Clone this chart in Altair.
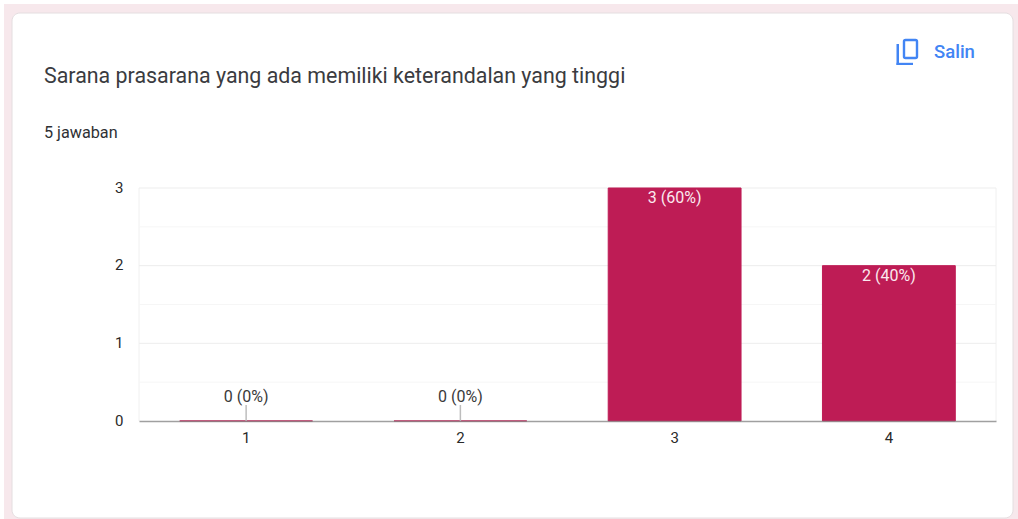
import altair as alt
import pandas as pd

# Survey responses
categories = ["1", "2", "3", "4"]
counts = [0, 0, 3, 2]
labels = ["0 (0%)", "0 (0%)", "3 (60%)", "2 (40%)"]

major_ticks = [1, 2, 3]
minor_ticks = [0.5, 1.5, 2.5]
axis_ticks = [0, 1, 2, 3]

title_text = "Sarana prasarana yang ada memiliki keterandalan yang tinggi"
subtitle_text = "5 jawaban"
copy_text = "Salin"

FONT = "Roboto"
BAR = "#BE1C55"
BLUE = "#4285F4"
LEFT, TOP = 139, 188
W, H = 857, 233

df = pd.DataFrame({"cat": categories, "n": counts, "label": labels})
zero = df[df.n == 0]
filled = df[df.n > 0]

x_scale = alt.Scale(domain=categories, paddingInner=0.38, paddingOuter=0.19)
y_scale = alt.Scale(domain=[0, 3], nice=False)
x_axis = alt.Axis(labelAngle=0, ticks=False, domainColor="#808080", domainWidth=1.5,
                  domainOpacity=0.75, labelFont=FONT, labelFontSize=15,
                  labelColor="#2A2A2A", labelPadding=9, zindex=1)
y_axis = alt.Axis(values=axis_ticks, grid=False, ticks=False, domain=False,
                  labelFont=FONT, labelFontSize=15, labelColor="#2A2A2A",
                  labelPadding=16, labelOffset=-1, zindex=1)
X = alt.X("cat:N", scale=x_scale, sort=categories, title=None, axis=x_axis)


def y_enc(field):
    return alt.Y(f"{field}:Q", scale=y_scale, title=None, axis=y_axis)


def box(x0, y0, x1, y1, **kw):
    """Rectangle placed in page pixels, for the page furniture around the chart."""
    return alt.Chart(pd.DataFrame({"a": [0]})).mark_rect(**kw).encode(
        x=alt.value(x0 - LEFT), x2=alt.value(x1 - LEFT),
        y=alt.value(y0 - TOP), y2=alt.value(y1 - TOP))


def caption(text, x, y, **kw):
    return alt.Chart(pd.DataFrame({"a": [0]})).mark_text(
        text=text, font=FONT, align="left", baseline="alphabetic", **kw
    ).encode(x=alt.value(x - LEFT), y=alt.value(y - TOP))


backdrop = box(4, 4, 1018, 519, color="#F7E8EC")
card = box(12, 13, 1013, 518, fill="white", stroke="#E4DEE0", strokeWidth=1, cornerRadius=8)

# Copy icon beside the "Salin" link
icon_front = box(904, 40, 917, 58, fill="white", stroke=BLUE, strokeWidth=2.4, cornerRadius=1.5)
icon_side = box(896.5, 44, 899, 65, color=BLUE)
icon_base = box(896.5, 62.8, 913, 65, color=BLUE)

grid_major = alt.Chart(pd.DataFrame({"v": major_ticks})).mark_rule(
    color="#EDEDED", strokeWidth=1).encode(y=y_enc("v"))
grid_minor = alt.Chart(pd.DataFrame({"v": minor_ticks})).mark_rule(
    color="#F6F6F6", strokeWidth=1).encode(y=y_enc("v"))
edge_left = alt.Chart(pd.DataFrame({"a": [0]})).mark_rule(color="#F0F0F0").encode(
    x=alt.value(0), y=alt.value(0), y2=alt.value(H))
edge_right = alt.Chart(pd.DataFrame({"a": [0]})).mark_rule(color="#F0F0F0").encode(
    x=alt.value(W), y=alt.value(0), y2=alt.value(H))

bars = alt.Chart(df).mark_bar(color=BAR, stroke=BAR, strokeWidth=1).encode(x=X, y=y_enc("n"))

leaders = alt.Chart(zero).mark_rule(color="#BDBDBD", strokeWidth=1.5).encode(
    x=X, y=y_enc("n"), y2=alt.value(H - 16))

zero_labels = alt.Chart(zero).mark_text(
    font=FONT, fontSize=16, color="#3A3A3A", dy=-24).encode(
    x=X, y=y_enc("n"), text="label:N")

bar_labels = alt.Chart(filled).mark_text(
    font=FONT, fontSize=16, color="#FBE9EF", dy=10).encode(
    x=X, y=y_enc("n"), text="label:N")

chart = alt.layer(
    backdrop, card,
    caption(title_text, 44, 83, fontSize=21.4, color="#3A3B40"),
    caption(subtitle_text, 44, 138, fontSize=16.2, color="#2E3034"),
    caption(copy_text, 934, 58, fontSize=18.5, fontWeight=500, color=BLUE),
    icon_side, icon_base, icon_front,
    edge_left, edge_right, grid_minor, grid_major,
    bars, leaders, zero_labels, bar_labels,
).resolve_scale(x="shared", y="shared").properties(
    width=W, height=H,
    padding={"left": LEFT, "top": TOP, "right": 1018 - LEFT - W, "bottom": 519 - TOP - H},
    autosize="none", background="white",
).configure_view(stroke=None)

chart.save("out.html", embed_options={"renderer": "svg", "actions": False})
